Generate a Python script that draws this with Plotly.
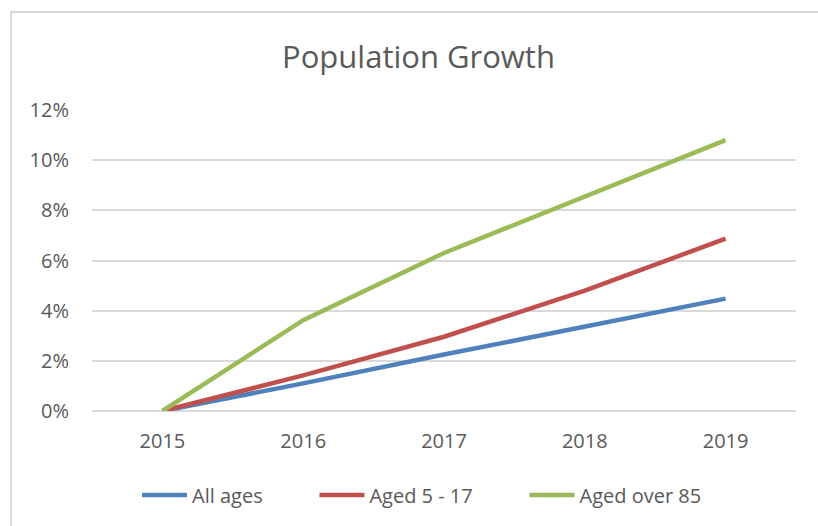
import plotly.graph_objects as go

# Cumulative population growth relative to 2015
years = ["2015", "2016", "2017", "2018", "2019"]
all_ages = [0.0, 0.0110, 0.0225, 0.0337, 0.0448]
aged_5_17 = [0.0, 0.0142, 0.0296, 0.0480, 0.0687]
aged_over_85 = [0.0, 0.0362, 0.0630, 0.0857, 0.1080]

series_names = ["All ages", "Aged 5 - 17", "Aged over 85"]
series_values = [all_ages, aged_5_17, aged_over_85]
series_colors = ["#4F81BD", "#C0504D", "#9BBB59"]

W, H = 818, 526
L, R, T, B = 92, 22, 110, 115
pw, ph = W - L - R, H - T - B

def px_x(px):
    return (px - L) / pw

def px_y(py):
    return (H - B - py) / ph

text_color = "#595959"
font_family = "Open Sans, Lato, sans-serif"
# non-breaking spaces widen the gap between legend entries
entry_pad = "\u00a0" * 9

fig = go.Figure()
for i, (name, vals, color) in enumerate(zip(series_names, series_values, series_colors)):
    label = name + (entry_pad if i < len(series_names) - 1 else "")
    fig.add_trace(go.Scatter(
        x=years, y=vals, name=label, mode="lines",
        line=dict(color=color, width=4.5),
    ))

fig.update_layout(
    width=W, height=H,
    margin=dict(l=L, r=R, t=T, b=B),
    paper_bgcolor="white", plot_bgcolor="white",
    font=dict(family=font_family, size=20, color=text_color),
    title=dict(
        text="Population Growth",
        font=dict(family=font_family, size=31, color=text_color),
        xref="container", yref="container",
        x=418.5 / W, y=1 - 57 / H, xanchor="center", yanchor="middle",
    ),
    showlegend=True,
    legend=dict(
        orientation="h",
        x=px_x(422), y=px_y(495), xanchor="center", yanchor="middle",
        font=dict(family=font_family, size=20, color=text_color),
        bgcolor="rgba(0,0,0,0)",
        itemwidth=45,
    ),
    shapes=[dict(
        type="rect", xref="paper", yref="paper",
        x0=px_x(11), x1=px_x(840), y0=px_y(560), y1=px_y(12),
        line=dict(color="#D9D9D9", width=2), fillcolor="rgba(0,0,0,0)",
        layer="below",
    )],
)

fig.update_xaxes(
    type="category", range=[-0.5, 4.5],
    showgrid=False, showline=False, zeroline=False,
    ticks="outside", ticklen=12, tickcolor="rgba(0,0,0,0)",
    tickfont=dict(size=20, color=text_color),
    fixedrange=True,
)
fig.update_yaxes(
    range=[0, 0.12], tickvals=[0, 0.02, 0.04, 0.06, 0.08, 0.10, 0.12],
    tickformat=".0%",
    showgrid=True, gridcolor="#D9D9D9", gridwidth=1.5,
    zeroline=True, zerolinecolor="#D9D9D9", zerolinewidth=1.5,
    showline=False,
    ticks="outside", ticklen=18, tickcolor="rgba(0,0,0,0)",
    tickfont=dict(size=20, color=text_color),
    fixedrange=True,
)

fig.write_html("out.html")
